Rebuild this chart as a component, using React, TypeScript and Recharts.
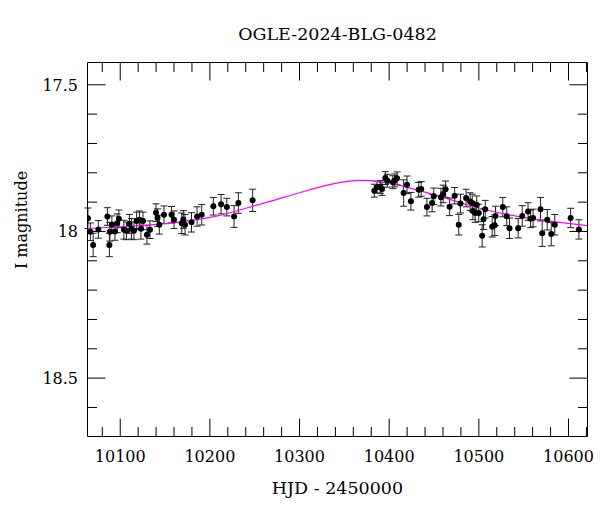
import { ComposedChart, Scatter, Line, XAxis, YAxis, ErrorBar } from "recharts"

// OGLE photometry (HJD - 2450000, I mag, error)
const hjd = [
  10064.0, 10066.7, 10069.8, 10075.6, 10085.7, 10087.9, 10088.5, 10090.7, 10094.1, 10096.6,
  10098.5, 10104.1, 10106.9, 10110.3, 10112.5, 10115.3, 10118.3, 10121.4, 10123.1, 10125.4,
  10129.8, 10133.2, 10139.9, 10141.6, 10143.6, 10148.8, 10157.2, 10160.0, 10168.6, 10170.4,
  10172.3, 10179.5, 10185.7, 10190.9, 10203.9, 10212.5, 10218.9, 10227.0, 10231.8, 10247.7,
  10383.4, 10386.4, 10390.1, 10392.0, 10395.7, 10397.9, 10404.1, 10406.1, 10408.8, 10416.1,
  10419.9, 10424.2, 10432.9, 10435.7, 10442.1, 10447.9, 10449.7, 10457.7, 10460.2, 10462.9,
  10467.4, 10473.0, 10477.6, 10479.5, 10485.8, 10490.3, 10492.6, 10493.4, 10495.9, 10497.6,
  10499.9, 10503.7, 10505.2, 10507.1, 10514.9, 10517.7, 10518.6, 10526.7, 10531.1, 10534.2,
  10543.9, 10548.4, 10554.9, 10557.7, 10560.5, 10568.8, 10570.7, 10576.3, 10580.8, 10584.7,
  10602.4, 10611.6,
]
const mag = [
  17.955, 18.001, 18.046, 17.993, 17.949, 18.046, 18.001, 17.977, 18.0, 17.972,
  17.957, 17.994, 17.998, 17.974, 17.991, 17.998, 17.964, 17.96, 17.991, 17.964,
  18.011, 17.994, 17.936, 17.953, 17.977, 17.943, 17.943, 17.96, 17.972, 17.959,
  17.977, 17.969, 17.949, 17.943, 17.914, 17.907, 17.917, 17.949, 17.903, 17.894,
  17.861, 17.849, 17.848, 17.855, 17.818, 17.827, 17.832, 17.826, 17.819, 17.869,
  17.841, 17.897, 17.858, 17.855, 17.917, 17.903, 17.88, 17.883, 17.872, 17.856,
  17.916, 17.878, 17.977, 17.905, 17.886, 17.898, 17.903, 17.93, 17.937, 17.909,
  17.937, 18.015, 17.958, 17.924, 17.984, 17.979, 17.947, 17.917, 17.948, 17.989,
  17.989, 17.947, 17.932, 17.957, 17.954, 17.924, 18.006, 17.96, 18.009, 17.977,
  17.954, 17.993,
]
const magErr = [
  0.035, 0.03, 0.04, 0.03, 0.03, 0.04, 0.032, 0.03, 0.03, 0.032,
  0.03, 0.032, 0.03, 0.032, 0.035, 0.03, 0.03, 0.03, 0.035, 0.03,
  0.032, 0.03, 0.03, 0.03, 0.032, 0.03, 0.028, 0.03, 0.035, 0.03,
  0.035, 0.033, 0.033, 0.035, 0.03, 0.033, 0.03, 0.037, 0.035, 0.038,
  0.022, 0.02, 0.022, 0.022, 0.022, 0.022, 0.022, 0.022, 0.022, 0.045,
  0.03, 0.03, 0.025, 0.025, 0.03, 0.03, 0.028, 0.03, 0.03, 0.028,
  0.03, 0.028, 0.035, 0.032, 0.03, 0.03, 0.03, 0.03, 0.032, 0.03,
  0.03, 0.038, 0.035, 0.03, 0.035, 0.035, 0.033, 0.033, 0.032, 0.035,
  0.033, 0.035, 0.03, 0.03, 0.03, 0.04, 0.045, 0.035, 0.04, 0.035,
  0.033, 0.033,
]

// microlensing model curve
const modelHjd = [
  10063.5, 10100, 10140, 10180, 10210, 10240, 10270, 10300, 10330, 10350,
  10370, 10390, 10410, 10440, 10470, 10500, 10530, 10560, 10590, 10621.2,
]
const modelMag = [
  17.99, 17.984, 17.976, 17.962, 17.946, 17.921, 17.895, 17.868, 17.843, 17.831,
  17.826, 17.83, 17.842, 17.866, 17.893, 17.92, 17.941, 17.957, 17.969, 17.98,
]

const xTicks = [
  10080, 10100, 10120, 10140, 10160, 10180, 10200, 10220, 10240, 10260, 10280, 10300, 10320, 10340,
  10360, 10380, 10400, 10420, 10440, 10460, 10480, 10500, 10520, 10540, 10560, 10580, 10600, 10620,
]
const xLabels = [10100, 10200, 10300, 10400, 10500, 10600]
const yTicks = [17.5, 17.6, 17.7, 17.8, 17.9, 18, 18.1, 18.2, 18.3, 18.4, 18.5, 18.6]
const yLabels = [17.5, 18, 18.5]

const X_DOMAIN = [10063.5, 10621.2]
const Y_DOMAIN = [17.424, 18.699]

const FONT = "DejaVu Serif"
const PLOT_TOP = 62.5
const PLOT_BOTTOM = 436.5
const PLOT_LEFT = 87.5
const PLOT_RIGHT = 587.5
const MAJOR = 18
const MINOR = 9.5

const points = hjd.map((t, i) => ({ t, mag: mag[i], err: magErr[i] }))
const model = modelHjd.map((t, i) => ({ t, mag: modelMag[i] }))

function BottomTick(props: any) {
  const { x, payload } = props
  const major = xLabels.includes(payload.value)
  return (
    <g>
      <line x1={x} x2={x} y1={PLOT_BOTTOM} y2={PLOT_BOTTOM - (major ? MAJOR : MINOR)} stroke="#000" />
      {major && (
        <text x={x} y={PLOT_BOTTOM + 25} textAnchor="middle" fontFamily={FONT} fontSize={16} fill="#000">
          {payload.value}
        </text>
      )}
    </g>
  )
}

function TopTick(props: any) {
  const { x, payload } = props
  const major = xLabels.includes(payload.value)
  return <line x1={x} x2={x} y1={PLOT_TOP} y2={PLOT_TOP + (major ? MAJOR : MINOR)} stroke="#000" />
}

function LeftTick(props: any) {
  const { y, payload } = props
  const major = yLabels.includes(payload.value)
  return (
    <g>
      <line x1={PLOT_LEFT} x2={PLOT_LEFT + (major ? MAJOR : MINOR)} y1={y} y2={y} stroke="#000" />
      {major && (
        <text x={PLOT_LEFT - 9.5} y={y + 6} textAnchor="end" fontFamily={FONT} fontSize={16} fill="#000">
          {payload.value}
        </text>
      )}
    </g>
  )
}

function RightTick(props: any) {
  const { y, payload } = props
  const major = yLabels.includes(payload.value)
  return <line x1={PLOT_RIGHT} x2={PLOT_RIGHT - (major ? MAJOR : MINOR)} y1={y} y2={y} stroke="#000" />
}

const Dot = (props: any) => <circle cx={props.cx} cy={props.cy} r={3} fill="#000" />

export default function App() {
  return (
    <div style={{ position: "absolute", left: 0, top: 0, width: 600, height: 512, background: "#fff" }}>
      <ComposedChart
        width={600}
        height={512}
        margin={{ top: PLOT_TOP - 1, right: 600 - PLOT_RIGHT - 1, bottom: 0, left: 0 }}
      >
        <XAxis
          xAxisId="b"
          type="number"
          dataKey="t"
          domain={X_DOMAIN}
          ticks={xTicks}
          interval={0}
          allowDataOverflow
          height={512 - PLOT_BOTTOM}
          tickSize={0}
          tickMargin={0}
          tickLine={false}
          axisLine={{ stroke: "#000" }}
          tick={BottomTick}
          label={() => (
            <text x={(PLOT_LEFT + PLOT_RIGHT) / 2} y={494} textAnchor="middle" fontFamily={FONT} fontSize={17.5} fill="#000">
              HJD - 2450000
            </text>
          )}
        />
        <XAxis
          xAxisId="top"
          orientation="top"
          type="number"
          dataKey="t"
          domain={X_DOMAIN}
          ticks={xTicks}
          interval={0}
          allowDataOverflow
          height={1}
          tickSize={0}
          tickMargin={0}
          tickLine={false}
          axisLine={{ stroke: "#000" }}
          tick={TopTick}
          label={() => (
            <text x={(PLOT_LEFT + PLOT_RIGHT) / 2} y={40} textAnchor="middle" fontFamily={FONT} fontSize={17.5} fill="#000">
              OGLE-2024-BLG-0482
            </text>
          )}
        />
        <YAxis
          yAxisId="l"
          type="number"
          dataKey="mag"
          reversed
          domain={Y_DOMAIN}
          ticks={yTicks}
          interval={0}
          allowDataOverflow
          width={PLOT_LEFT}
          tickSize={0}
          tickMargin={0}
          tickLine={false}
          axisLine={{ stroke: "#000" }}
          tick={LeftTick}
          label={() => (
            <text
              x={21}
              y={220}
              transform="rotate(-90 21 220)"
              textAnchor="middle"
              dominantBaseline="central"
              fontFamily={FONT}
              fontSize={16}
              fill="#000"
            >
              I magnitude
            </text>
          )}
        />
        <YAxis
          yAxisId="r"
          orientation="right"
          type="number"
          dataKey="mag"
          reversed
          domain={Y_DOMAIN}
          ticks={yTicks}
          interval={0}
          allowDataOverflow
          width={1}
          tickSize={0}
          tickMargin={0}
          tickLine={false}
          axisLine={{ stroke: "#000" }}
          tick={RightTick}
        />
        <Scatter data={points} dataKey="mag" xAxisId="b" yAxisId="l" shape={Dot} isAnimationActive={false}>
          <ErrorBar dataKey="err" direction="y" width={3.5} stroke="#222" strokeWidth={1} />
        </Scatter>
        <Line
          data={model}
          dataKey="mag"
          xAxisId="top"
          yAxisId="r"
          type="monotone"
          stroke="#ff00ff"
          strokeWidth={1.2}
          dot={false}
          activeDot={false}
          isAnimationActive={false}
        />
      </ComposedChart>
    </div>
  )
}
